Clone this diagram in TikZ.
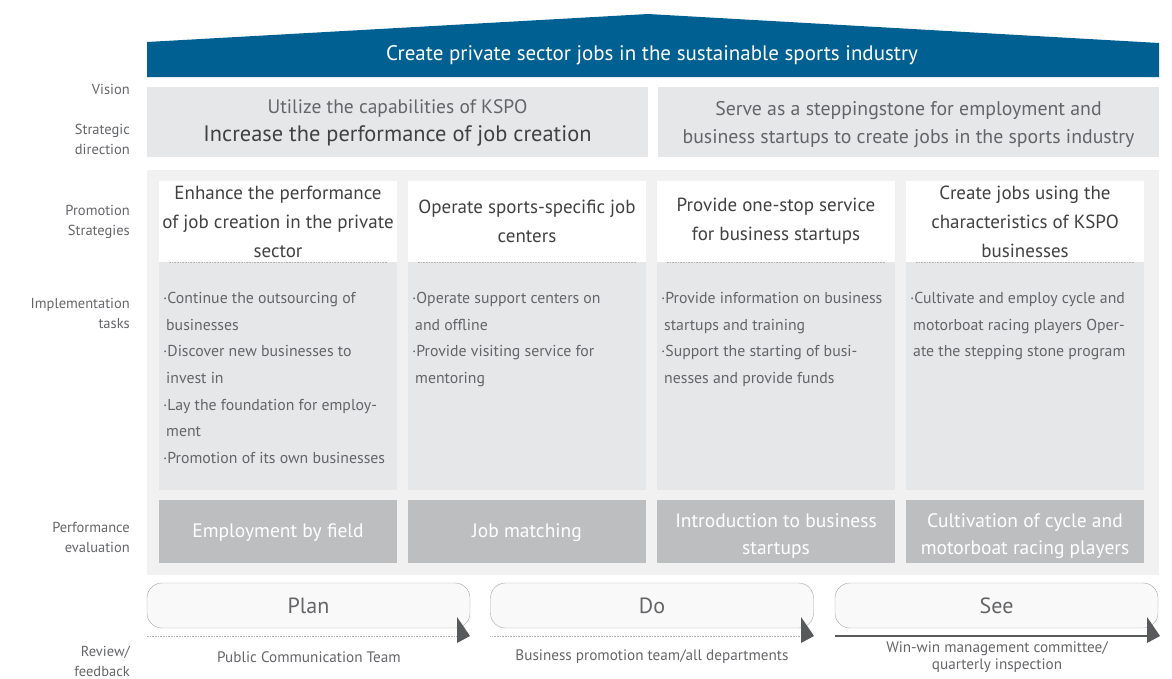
\documentclass[tikz,border=0pt]{standalone}
\usepackage{fontspec}
\setmainfont{PT Sans}
\usetikzlibrary{positioning}
\definecolor{kspoblue}{RGB}{0,96,145}
\definecolor{panelgray}{RGB}{241,241,242}
\definecolor{boxgray}{RGB}{230,231,232}
\definecolor{evalgray}{RGB}{188,190,192}
\definecolor{darktext}{RGB}{65,65,67}
\definecolor{softtext}{RGB}{100,101,104}
\definecolor{arrowgray}{RGB}{88,89,91}

\begin{document}
\begin{tikzpicture}[x=1pt, y=-1pt,
    rowlabel/.style={anchor=east, align=right, text=softtext, inner sep=0pt, font=\fontsize{14.5}{20}\selectfont},
    stratbox/.style={fill=boxgray, minimum width=501pt, minimum height=70pt, inner sep=0pt},
    headbox/.style={fill=white, minimum width=238pt, minimum height=81pt, inner sep=0pt, align=center, text=darktext, font=\fontsize{19}{29}\selectfont},
    taskbox/.style={fill=boxgray, minimum width=238pt, minimum height=228pt, inner sep=0pt},
    tasktext/.style={anchor=north west, align=left, inner sep=0pt, text=softtext, font=\fontsize{15.8}{26.7}\selectfont},
    evalbox/.style={fill=evalgray, minimum width=238pt, minimum height=63pt, inner sep=0pt},
    evaltext/.style={align=center, inner sep=0pt, text=white, font=\fontsize{19.5}{27}\selectfont},
    pdsbox/.style={draw=gray!70, fill=gray!5, rounded corners=15pt, minimum width=323pt, minimum height=45pt, inner sep=0pt, text=softtext, font=\fontsize{22}{24}\selectfont},
    teamtext/.style={text=softtext, align=center, inner sep=0pt, font=\fontsize{15.2}{17}\selectfont},
    finedots/.style={draw=gray!60, line width=0.8pt, dash pattern=on 0.8pt off 0.8pt}]

    \useasboundingbox (0,0) rectangle (1172,678);

    % vision roof
    \fill[kspoblue] (147,42) -- (648,14) -- (1159,43) -- (1159,77) -- (147,77) -- cycle;
    \node[text=white, font=\fontsize{21}{24}\selectfont] (vision) at (652,55) {Create private sector jobs in the sustainable sports industry};

    % strategic direction
    \node[stratbox] (dirleft) at (397.5,122) {};
    \node[text=softtext, font=\fontsize{19.5}{22}\selectfont] (dirleftA) at (397.5,109) {Utilize the capabilities of KSPO};
    \node[text=darktext, font=\fontsize{22.4}{24}\selectfont] (dirleftB) at (397.5,136) {Increase the performance of job creation};
    \node[stratbox] (dirright) at (908.5,122) {};
    \node[text=softtext, align=center, font=\fontsize{19.8}{28}\selectfont] (dirrightT) at (908.5,124.5) {Serve as a steppingstone for employment and\\business startups to create jobs in the sports industry};

    % row labels
    \node[rowlabel] (lvision) at (130,89) {Vision};
    \node[rowlabel] (ldir) at (130,139) {Strategic\\direction};
    \node[rowlabel] (lprom) at (130,222) {Promotion\\Strategies};
    \node[rowlabel] (ltask) at (130,313) {Implementation\\tasks};
    \node[rowlabel] (leval) at (130,537) {Performance\\evaluation};
    \node[rowlabel] (lreview) at (130,661) {Review/\\feedback};

    % strategy panel
    \fill[panelgray] (147,170) rectangle (1159,575);

    \node[headbox] (headA) at (278,221.5) {Enhance the performance\\of job creation in the private\\sector};
    \node[headbox] (headB) at (527,221.5) {Operate sports-specific job\\centers};
    \node[headbox] (headC) at (776,221.5) {Provide one-stop service\\for business startups};
    \node[headbox] (headD) at (1025,221.5) {Create jobs using the\\characteristics of KSPO\\businesses};

    \node[taskbox, below=0pt of headA] (taskA) {};
    \node[taskbox, below=0pt of headB] (taskB) {};
    \node[taskbox, below=0pt of headC] (taskC) {};
    \node[taskbox, below=0pt of headD] (taskD) {};

    \foreach \col in {A,B,C,D}
        \draw[finedots] ([xshift=10pt]task\col.north west) -- ([xshift=-10pt]task\col.north east);

    \node[tasktext] (textA) at (163,292) {·Continue the outsourcing of\\\hspace*{3pt}businesses\\·Discover new businesses to\\\hspace*{3pt}invest in\\·Lay the foundation for employ-\\\hspace*{3pt}ment\\·Promotion of its own businesses};
    \node[tasktext] (textB) at (412,292) {·Operate support centers on\\\hspace*{3pt}and offline\\·Provide visiting service for\\\hspace*{3pt}mentoring};
    \node[tasktext] (textC) at (661,292) {·Provide information on business\\\hspace*{3pt}startups and training\\·Support the starting of busi-\\\hspace*{3pt}nesses and provide funds};
    \node[tasktext] (textD) at (910,292) {·Cultivate and employ cycle and\\\hspace*{3pt}motorboat racing players Oper-\\\hspace*{3pt}ate the stepping stone program};

    \node[evalbox] (evalA) at (278,531.5) {};
    \node[evalbox] (evalB) at (527,531.5) {};
    \node[evalbox] (evalC) at (776,531.5) {};
    \node[evalbox] (evalD) at (1025,531.5) {};
    \node[evaltext] at ([yshift=-1pt]evalA.center) {Employment by field};
    \node[evaltext] at ([yshift=-1pt]evalB.center) {Job matching};
    \node[evaltext] at ([yshift=-4.5pt]evalC.center) {Introduction to business\\startups};
    \node[evaltext] at ([yshift=-4.5pt]evalD.center) {Cultivation of cycle and\\motorboat racing players};

    % plan / do / see
    \node[pdsbox] (plan) at (308.5,605.5) {Plan};
    \node[pdsbox] (do) at (652,605.5) {Do};
    \node[pdsbox] (see) at (996.5,605.5) {See};

    \coordinate (planend) at (457,636);
    \coordinate (doend) at (801,636);
    \coordinate (seeend) at (1147,636);

    \draw[finedots] (plan.south west |- planend) -- (planend);
    \draw[finedots] (do.south west |- doend) -- (doend);
    \draw[arrowgray, line width=1.6pt] (see.south west |- seeend) -- (seeend);
    \foreach \tip in {planend, doend, seeend}
        \fill[arrowgray] ([yshift=-7pt]\tip) -- ([xshift=13pt]\tip) -- ([yshift=19pt]\tip) -- cycle;

    \node[teamtext] (teamplan) at (309,657) {Public Communication Team};
    \node[teamtext] (teamdo) at (652,657) {Business promotion team/all departments};
    \node[teamtext] (teamsee) at (997,657.5) {Win-win management committee/\\quarterly inspection};
\end{tikzpicture}
\end{document}
